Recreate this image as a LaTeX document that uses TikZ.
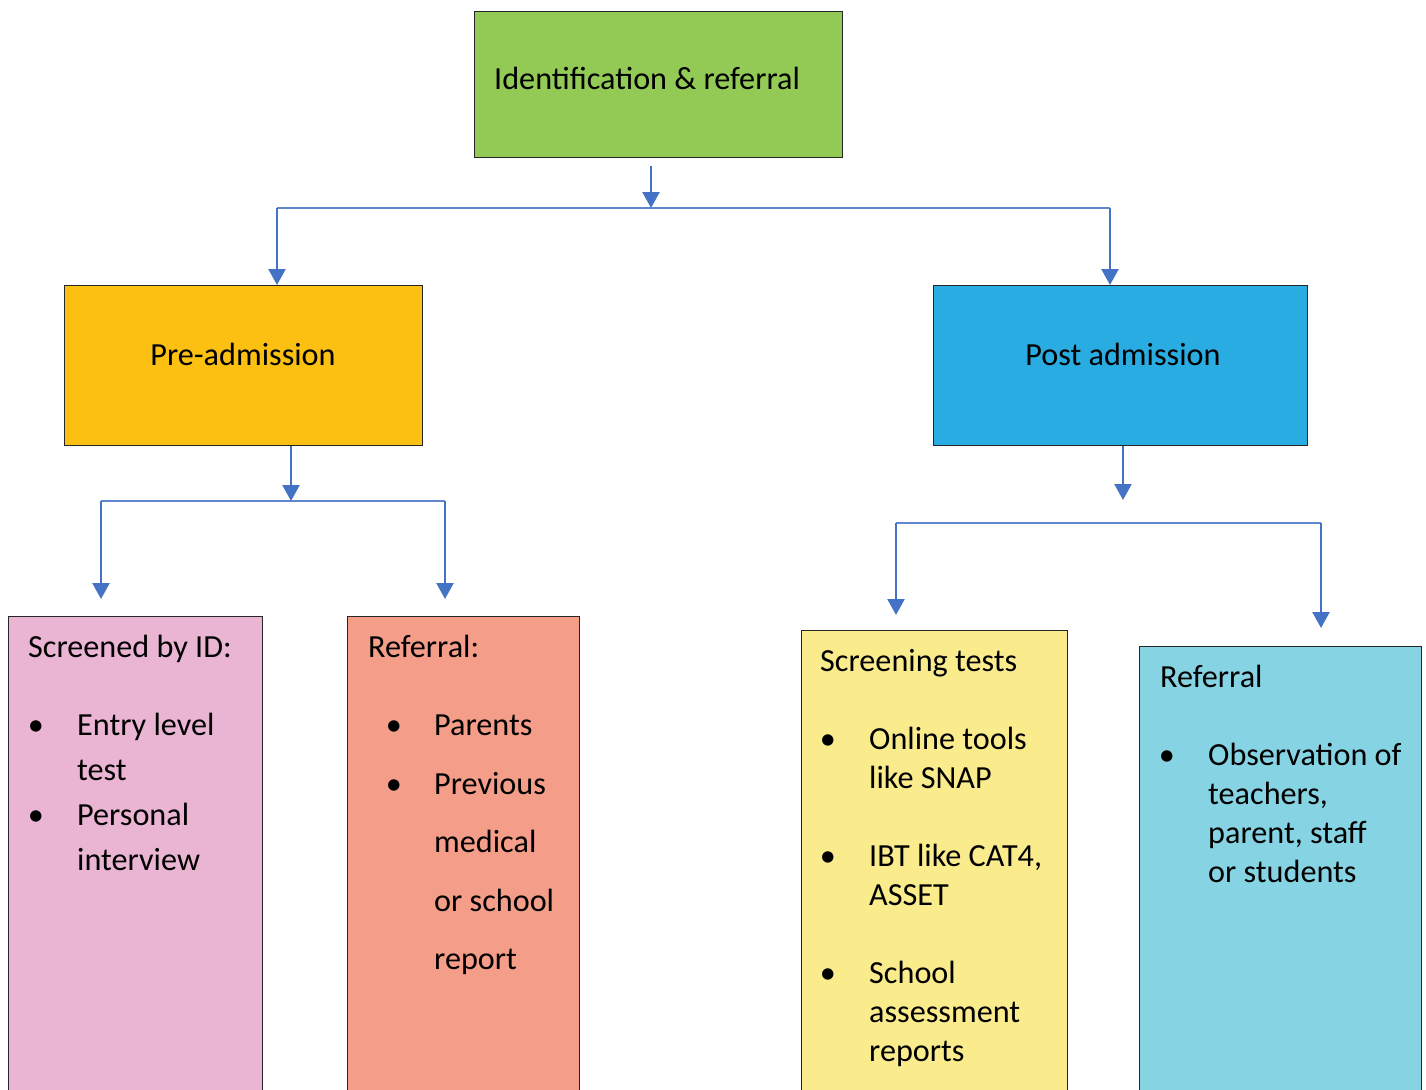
\documentclass[tikz,border=0pt]{standalone}
\usepackage{fontspec}
\setmainfont{Carlito}
\usetikzlibrary{arrows.meta,calc}
\definecolor{cgreen}{HTML}{92CA55}
\definecolor{corange}{HTML}{FBC012}
\definecolor{cblue}{HTML}{29ACE2}
\definecolor{cpink}{HTML}{EAB4D3}
\definecolor{csalmon}{HTML}{F49D89}
\definecolor{cyellow}{HTML}{FAEB8C}
\definecolor{clblue}{HTML}{86D3E3}
\definecolor{cline}{HTML}{4472C4}
\tikzset{
  box/.style={draw=black!85,line width=1.2pt,anchor=north west,inner sep=0pt},
  arr/.style={draw=cline,line width=2.4pt,-{Triangle[width=17pt,length=16pt]}},
  hline/.style={draw=cline!85,line width=1.6pt},
  txt/.style={font=\fontsize{32.2}{36}\selectfont,inner sep=0pt,anchor=base west},
  ctxt/.style={font=\fontsize{32.2}{36}\selectfont,inner sep=0pt,anchor=base},
}
\begin{document}
\begin{tikzpicture}[x=1pt,y=-1pt]
\useasboundingbox (0,0) rectangle (1426,1089);
\fill[white] (0,0) rectangle (1426,1089);
% boxes
\node[box,fill=cgreen,minimum width=368pt,minimum height=146pt] (top) at (474,11) {};
\node[box,fill=corange,minimum width=358pt,minimum height=160pt] (pre) at (64,285) {};
\node[box,fill=cblue,minimum width=374pt,minimum height=160pt] (post) at (933,285) {};
\node[box,fill=cpink,minimum width=254pt,minimum height=480pt] (pink) at (8,616) {};
\node[box,fill=csalmon,minimum width=232pt,minimum height=480pt] (salmon) at (347,616) {};
\node[box,fill=cyellow,minimum width=266pt,minimum height=466pt] (yellow) at (801,630) {};
\node[box,fill=clblue,minimum width=282pt,minimum height=450pt] (lblue) at (1139,646) {};
% texts
\node[txt] (ttop) at (494,90) {Identification \& referral};
\node[ctxt] (tpre) at (243,365) {Pre-admission};
\node[ctxt] (tpost) at (1123,365) {Post admission};
% pink
\node[txt] (p0) at (28,657) {Screened by ID:};
\node[ctxt] (pb1) at (36,735) {\textbullet};
\node[txt] (p1) at (77,735) {Entry level};
\node[txt] (p2) at (77,780) {test};
\node[ctxt] (pb2) at (36,825) {\textbullet};
\node[txt] (p3) at (77,825) {Personal};
\node[txt] (p4) at (77,870) {interview};
% salmon
\node[txt] (s0) at (368,657) {Referral:};
\node[ctxt] (sb1) at (394,735) {\textbullet};
\node[txt] (s1) at (434,735) {Parents};
\node[ctxt] (sb2) at (394,794) {\textbullet};
\node[txt] (s2) at (434,794) {Previous};
\node[txt] (s3) at (434,852) {medical};
\node[txt] (s4) at (434,911) {or school};
\node[txt] (s5) at (434,969) {report};
% yellow
\node[txt] (y0) at (820,671) {Screening tests};
\node[ctxt] (yb1) at (828,749) {\textbullet};
\node[txt] (y1) at (869,749) {Online tools};
\node[txt] (y2) at (869,788) {like SNAP};
\node[ctxt] (yb2) at (828,866) {\textbullet};
\node[txt] (y3) at (869,866) {IBT like CAT4,};
\node[txt] (y4) at (869,905) {ASSET};
\node[ctxt] (yb3) at (828,983) {\textbullet};
\node[txt] (y5) at (869,983) {School};
\node[txt] (y6) at (869,1022) {assessment};
\node[txt] (y7) at (869,1061) {reports};
% light blue
\node[txt] (l0) at (1160,687) {Referral};
\node[ctxt] (lb1) at (1167,765) {\textbullet};
\node[txt] (l1) at (1208,765) {Observation of};
\node[txt] (l2) at (1208,804) {teachers,};
\node[txt] (l3) at (1208,843) {parent, staff};
\node[txt] (l4) at (1208,882) {or students};
% connectors level 1
\coordinate (j1) at (651,208);
\coordinate (j1l) at (277,208);
\coordinate (j1r) at (1110,208);
\draw[arr] ($(j1 |- top.south)+(0,8)$) -- (j1);
\draw[hline] (j1l) -- (j1r);
\draw[arr] (j1l) -- (j1l |- pre.north);
\draw[arr] (j1r) -- (j1r |- post.north);
% pre-admission branch
\coordinate (j2) at (291,501);
\coordinate (j2l) at (101,501);
\coordinate (j2r) at (445,501);
\draw[arr] (j2 |- pre.south) -- (j2);
\draw[hline] (j2l) -- (j2r);
\draw[arr] (j2l) -- ($(j2l |- pink.north)+(0,-17)$);
\draw[arr] (j2r) -- ($(j2r |- salmon.north)+(0,-17)$);
% post admission branch
\coordinate (e3) at (1123,500);
\coordinate (j3l) at (896,523);
\coordinate (j3r) at (1321,523);
\draw[arr] (e3 |- post.south) -- (e3);
\draw[hline] (j3l) -- (j3r);
\draw[arr] (j3l) -- ($(j3l |- yellow.north)+(0,-15)$);
\draw[arr] (j3r) -- ($(j3r |- lblue.north)+(0,-18)$);
\end{tikzpicture}
\end{document}
